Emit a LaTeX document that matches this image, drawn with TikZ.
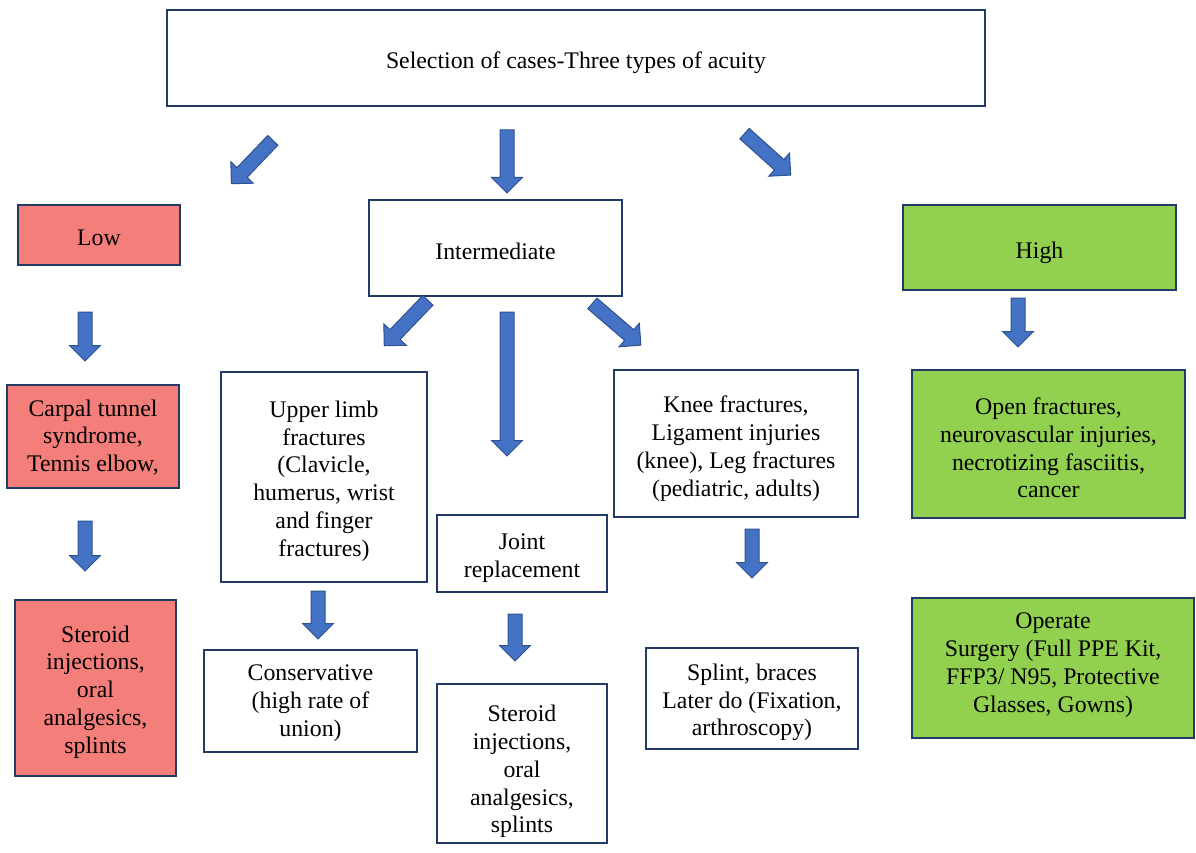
\documentclass[tikz,border=0pt]{standalone}
\usepackage{fontspec}
\setmainfont{Liberation Serif}
\usetikzlibrary{shapes.arrows}
\definecolor{boxline}{HTML}{233A66}
\definecolor{lowfill}{HTML}{F47E79}
\definecolor{highfill}{HTML}{92D050}
\definecolor{arrowfill}{HTML}{4472C4}
\definecolor{arrowline}{HTML}{2F528F}
\begin{document}
\begin{tikzpicture}[x=1pt,y=-1pt,
  box/.style={draw=boxline, line width=1.4pt, inner sep=0pt},
  lowbox/.style={box, fill=lowfill},
  highbox/.style={box, fill=highfill},
  boxtext/.style={inner sep=0pt, align=center, font=\fontsize{23.8}{27.8}\selectfont},
  barrow/.style={single arrow, draw=arrowline, fill=arrowfill, line width=1pt,
    inner xsep=0pt, inner ysep=6.5pt, single arrow head extend=8.5pt,
    single arrow tip angle=90}]
\useasboundingbox (0,0) rectangle (1196,853);
\newcommand\bx[7]{%
  \node[#1, minimum width=#4pt, minimum height=#5pt] (#2) at (#3) {};
  \node[boxtext] (#2-t) at ([yshift=-#6pt]#2.center) {#7};}

% boxes: style, name, centre, width, height, text shift, text
\bx{box}{top}{576,58}{818}{96}{5}{Selection of cases-Three types of acuity}
\bx{lowbox}{low}{99,235}{162}{60}{3}{Low}
\bx{box}{inter}{495.5,248}{253}{96}{3}{Intermediate}
\bx{highbox}{high}{1039.5,247.5}{273}{85}{5}{High}
\bx{lowbox}{carpal}{93,436.5}{172}{103}{1}{Carpal tunnel\\syndrome,\\Tennis elbow,}
\bx{box}{upper}{324,477}{206}{210}{4}{Upper limb\\fractures\\(Clavicle,\\humerus, wrist\\and finger\\fractures)}
\bx{box}{joint}{522,553.5}{170}{77}{5}{Joint\\replacement}
\bx{box}{knee}{736,443.5}{244}{147}{5}{Knee fractures,\\Ligament injuries\\(knee), Leg fractures\\(pediatric, adults)}
\bx{highbox}{open}{1048.5,444}{273}{148}{4}{Open fractures,\\neurovascular injuries,\\necrotizing fasciitis,\\cancer}
\bx{lowbox}{steroidL}{95.5,688}{161}{176}{4}{Steroid\\injections,\\oral\\analgesics,\\splints}
\bx{box}{cons}{310.5,701}{213}{102}{2}{Conservative\\(high rate of\\union)}
\bx{box}{steroidM}{522,763.5}{170}{159}{8}{Steroid\\injections,\\oral\\analgesics,\\splints}
\bx{box}{splint}{752,698.5}{212}{101}{4}{Splint, braces\\Later do (Fixation,\\arthroscopy)}
\bx{highbox}{operate}{1053,668}{282}{140}{-3}{Operate\\Surgery (Full PPE Kit,\\FFP3/ N95, Protective\\Glasses, Gowns)}

% block arrows
\node[barrow, minimum height=60pt, rotate=-133.7] (arLow) at (254.5,159.5) {};
\node[barrow, minimum height=63pt, rotate=-90] (arInt) at (507,158) {};
\node[barrow, minimum height=62pt, rotate=-41.9] (arHigh) at (765,152) {};
\node[barrow, minimum height=49pt, rotate=-90] (arLowC) at (85,333) {};
\node[barrow, minimum height=50pt, rotate=-90] (arCarpal) at (85,542.5) {};
\node[barrow, minimum height=63pt, rotate=-133.8] (arUpper) at (408.5,320.5) {};
\node[barrow, minimum height=144pt, rotate=-90] (arJoint) at (507,380.5) {};
\node[barrow, minimum height=64pt, rotate=-40.7] (arKnee) at (614,322) {};
\node[barrow, minimum height=48pt, rotate=-90] (arCons) at (318,611.5) {};
\node[barrow, minimum height=47pt, rotate=-90] (arSteroidM) at (515,634) {};
\node[barrow, minimum height=49pt, rotate=-90] (arSplint) at (752,550) {};
\node[barrow, minimum height=49pt, rotate=-90] (arOpen) at (1018,319) {};
\end{tikzpicture}
\end{document}
